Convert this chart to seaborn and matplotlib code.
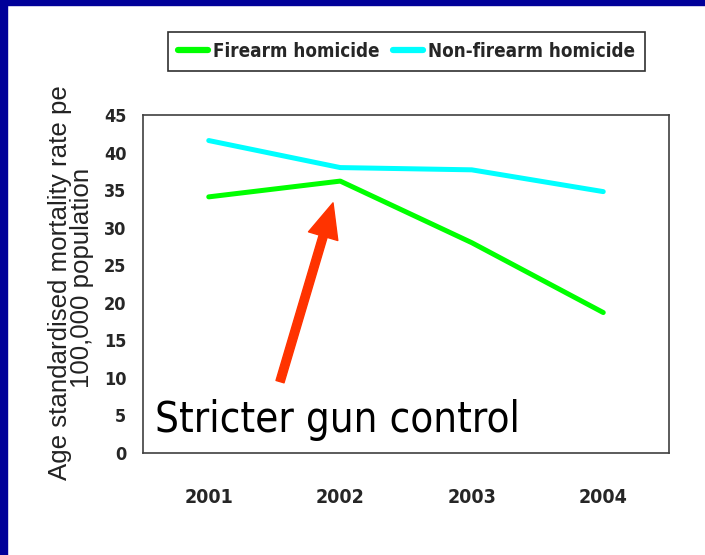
import matplotlib
matplotlib.use("Agg")
import matplotlib.pyplot as plt
from matplotlib.patches import Rectangle
from matplotlib.transforms import Bbox
from matplotlib.lines import Line2D
from matplotlib.font_manager import FontProperties, fontManager
import seaborn as sns
import pandas as pd
import numpy as np

years = ["2001", "2002", "2003", "2004"]
firearm = [34.1, 36.2, 28.0, 18.7]
non_firearm = [41.6, 38.0, 37.7, 34.8]
series_names = ["Firearm homicide", "Non-firearm homicide"]
series_colors = ["#00FF00", "#00FFFF"]
y_ticks = [0, 5, 10, 15, 20, 25, 30, 35, 40, 45]
y_label = "Age standardised mortality rate per\n100,000 population"
annotation = "Stricter gun control"

sns.set_theme(style="white")
plt.rcParams["font.family"] = ["Liberation Sans", "DejaVu Sans"]


def narrow_font(bold, size):
    """Find a narrow/condensed font file, falling back to Liberation Sans."""
    entries = fontManager.ttflist
    want_bold = lambda f: (f.weight in ("bold", 700, "700") or (isinstance(f.weight, int) and f.weight >= 600)) == bold
    prefs = [
        lambda f: f.name == "Liberation Sans Narrow",
        lambda f: f.name == "Arial Narrow",
        lambda f: f.name.startswith("DejaVu Sans") and "ondensed" in f.fname and "Mono" not in f.name,
        lambda f: ("Condensed" in f.fname or "Narrow" in f.fname) and "Mono" not in f.fname and "Serif" not in f.fname,
    ]
    for p in prefs:
        cands = [f for f in entries if p(f) and want_bold(f) and f.style == "normal"]
        if cands:
            return FontProperties(fname=cands[0].fname, size=size)
    return FontProperties(family="Liberation Sans", weight="bold" if bold else "normal", size=size)


df = pd.DataFrame({
    "year": years * 2,
    "pos": list(range(len(years))) * 2,
    "rate": firearm + non_firearm,
    "series": [series_names[0]] * len(years) + [series_names[1]] * len(years),
})

fig = plt.figure(figsize=(7.05, 5.55), dpi=100)
fig.patch.set_facecolor("white")
ax = fig.add_axes([143 / 705, (555 - 453) / 555, (669 - 143) / 705, (453 - 115) / 555])

sns.lineplot(data=df, x="pos", y="rate", hue="series", palette=series_colors,
             hue_order=series_names, linewidth=3.6, ax=ax, legend=False, sort=False)

ax.set_xlim(-0.5, len(years) - 0.5)
ax.set_ylim(0, 45)
ax.set_yticks(y_ticks)
ax.set_yticklabels([str(t) for t in y_ticks], fontproperties=narrow_font(True, 13))
ax.set_xticks(np.arange(-0.5, len(years), 1.0))
ax.set_xticklabels([])
ax.set_xticks(range(len(years)), minor=True)
ax.set_xticklabels(years, minor=True, fontproperties=narrow_font(True, 14))
ax.tick_params(axis="x", which="major", direction="out", length=10, width=1.1, color="#404040")
ax.tick_params(axis="x", which="minor", length=0, pad=25)
ax.tick_params(axis="y", direction="out", length=6, width=1.1, color="#404040", pad=6)
ax.set_xlabel("")
ax.set_ylabel("")
for s in ax.spines.values():
    s.set_visible(True)
    s.set_color("#404040")
    s.set_linewidth(1.2)

# legend
handles = [Line2D([0], [0], color=c, lw=4.5, solid_capstyle="round") for c in series_colors]
leg = fig.legend(handles, series_names, loc="center",
                 bbox_to_anchor=(406.5 / 705, (555 - 51.5) / 555),
                 ncol=2, frameon=True, fancybox=False, framealpha=1,
                 edgecolor="#303030", handlelength=1.6, handletextpad=0.25,
                 columnspacing=0.75, borderpad=0.55,
                 prop=narrow_font(True, 13.5))
leg.get_frame().set_linewidth(1.2)

# y label, clipped at the top like the reference
yl = fig.text(71 / 705, (555 - 278) / 555, y_label, rotation=90, ha="center", va="center",
              multialignment="center", fontsize=18.6, color="#222222",
              family=["Liberation Sans", "DejaVu Sans"], linespacing=0.88)
yl.set_clip_box(Bbox([[0, 0], [705, 555 - 85]]))
yl.set_clip_on(True)

# arrow and annotation
ax.annotate("", xy=(0.945, 33.3), xytext=(0.542, 9.5), xycoords="data",
            arrowprops=dict(arrowstyle="simple,head_width=2.2,head_length=2.5,tail_width=0.6",
                            mutation_scale=10, color="#FF3300", shrinkA=0, shrinkB=0))
ax.text(-0.409, 2.8, annotation, ha="left", va="baseline", color="black",
        fontproperties=narrow_font(False, 30.2))

# navy frame bands
fig.patches.append(Rectangle((0, 1 - 5 / 555), 1, 5 / 555, transform=fig.transFigure,
                             color="#000099", zorder=10))
fig.patches.append(Rectangle((0, 0), 7 / 705, 1, transform=fig.transFigure,
                             color="#000099", zorder=10))

fig.savefig("out.png", dpi=100, facecolor="white")
